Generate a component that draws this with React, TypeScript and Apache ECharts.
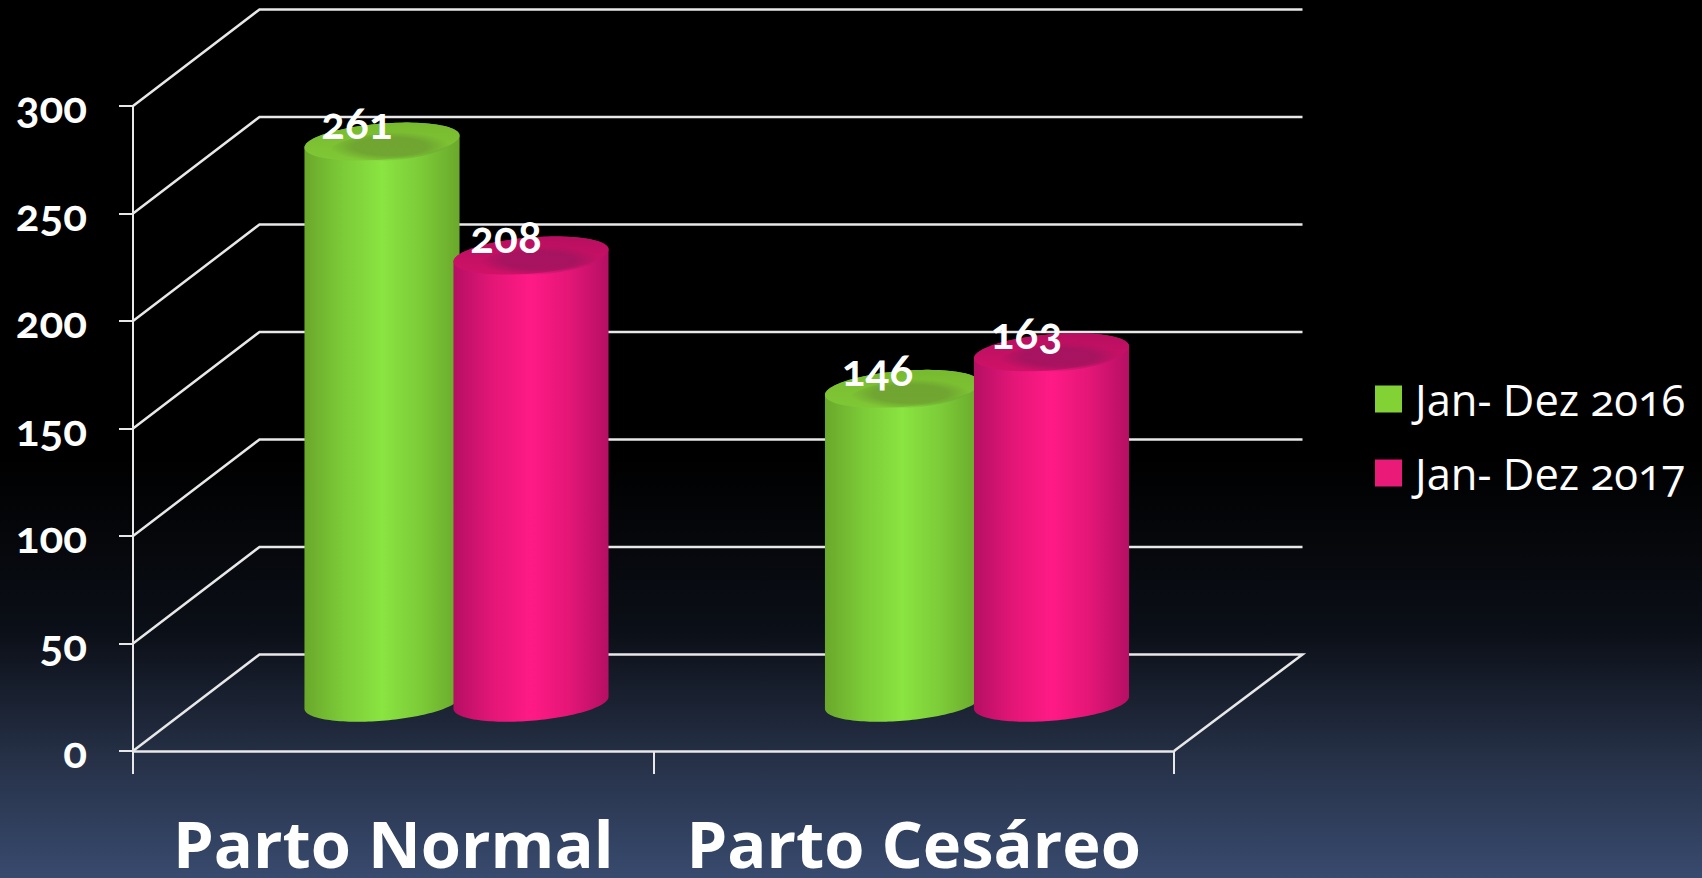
import React, { useEffect, useRef } from "react";
import * as echarts from "echarts";

const categories = ["Parto Normal", "Parto Cesáreo"];
const seriesNames = ["Jan- Dez 2016", "Jan- Dez 2017"];
const values2016 = [261, 146];
const values2017 = [208, 163];
const yTicks = [0, 50, 100, 150, 200, 250, 300];

const FONT = "'Open Sans', 'Noto Sans', sans-serif";
const DIGIT_FONT = "Lato, 'Noto Sans', sans-serif";
const DEPTH_X = 126.5;
const DEPTH_Y = 96.5;
const SHIFT = 74.5;

function ellipsePts(cx: number, cy: number, a: number, bx: number, by: number, from = 0, to = Math.PI * 2, n = 72) {
  const pts: number[][] = [];
  for (let i = 0; i <= n; i++) {
    const t = from + ((to - from) * i) / n;
    pts.push([cx + a * Math.cos(t) + bx * Math.sin(t), cy - by * Math.sin(t)]);
  }
  return pts;
}

const grad = (c: string[]) =>
  new echarts.graphic.LinearGradient(0, 0, 1, 0, [
    { offset: 0, color: c[0] },
    { offset: 0.25, color: c[1] },
    { offset: 0.5, color: c[2] },
    { offset: 0.75, color: c[1] },
    { offset: 1, color: c[0] },
  ]);

function cylinderSeries(name: string, values: number[], dir: number, body: string[], top: string[]) {
  return {
    name,
    type: "custom",
    coordinateSystem: "cartesian2d",
    itemStyle: { color: body[3] },
    data: values.map((v, i) => [i, v]),
    encode: { x: 0, y: 1 },
    z: 5,
    renderItem: (_p: any, api: any) => {
      const idx = api.value(0);
      const val = api.value(1);
      const [fx, fy] = api.coord([idx, val]);
      const [, f0] = api.coord([idx, 0]);
      const cx = fx + DEPTH_X / 2 + dir * SHIFT;
      const topY = fy - DEPTH_Y / 2;
      const baseY = f0 - DEPTH_Y / 2;
      const a = 73.5, bx = 24.7, by = 19;
      const t0 = Math.atan2(bx, a);
      const lower = ellipsePts(cx, baseY, a, bx, by, t0 + Math.PI, t0 + 2 * Math.PI);
      const upper = ellipsePts(cx, topY, a, bx, by, t0, t0 + Math.PI);
      return {
        type: "group",
        children: [
          {
            type: "polygon",
            shape: { points: [...lower, ...upper] },
            style: { fill: grad(body) },
          },
          {
            type: "polygon",
            shape: { points: ellipsePts(cx, topY, a, bx, by) },
            style: {
              fill: new echarts.graphic.LinearGradient(0, 0, 0, 1, [
                { offset: 0, color: top[0] },
                { offset: 1, color: top[1] },
              ]),
            },
          },
          {
            type: "polygon",
            shape: { points: ellipsePts(cx + 8, topY + 5, a * 0.78, bx * 0.78, by * 0.78) },
            style: {
              fill: new echarts.graphic.RadialGradient(0.5, 0.5, 0.5, [
                { offset: 0, color: top[2] },
                { offset: 0.6, color: top[2] },
                { offset: 1, color: top[3] },
              ]),
            },
          },
          {
            type: "text",
            z2: 10,
            style: {
              text: String(val),
              x: cx - 25,
              y: topY - 20,
              align: "center",
              verticalAlign: "middle",
              fill: "#ffffff",
              font: `700 44px ${DIGIT_FONT}`,
            },
          },
        ],
      };
    },
  };
}

export default function App() {
  const ref = useRef<HTMLDivElement>(null);
  useEffect(() => {
    document.body.style.margin = "0";
    const chart = echarts.init(ref.current!, null, { renderer: "svg" });
    chart.setOption({
      animation: false,
      backgroundColor: new echarts.graphic.LinearGradient(0, 0, 0, 1, [
        { offset: 0, color: "#000000" },
        { offset: 0.52, color: "#000000" },
        { offset: 0.72, color: "#0b0f17" },
        { offset: 0.87, color: "#273249" },
        { offset: 1, color: "#384a6e" },
      ]),
      grid: { left: 133, right: 528, top: 106, bottom: 127 },
      legend: {
        data: seriesNames,
        orient: "vertical",
        left: 1370,
        top: 372,
        icon: "rect",
        itemWidth: 27,
        itemHeight: 27,
        itemGap: 30,
        textStyle: {
          color: "#ffffff",
          fontFamily: FONT,
          fontSize: 43.5,
          fontWeight: 400,
          padding: [0, 0, 0, 8],
        },
      },
      xAxis: {
        type: "category",
        data: categories,
        axisLine: { lineStyle: { color: "#e8e8e8", width: 2.5 } },
        axisTick: { show: true, length: 23, alignWithLabel: false, lineStyle: { color: "#e8e8e8", width: 2 } },
        axisLabel: {
          color: "#ffffff",
          fontFamily: FONT,
          fontWeight: 700,
          fontSize: 65,
          lineHeight: 54,
          margin: 65,
          interval: 0,
        },
      },
      yAxis: {
        type: "value",
        min: 0,
        max: 300,
        interval: 50,
        splitLine: { show: false },
        axisLine: { show: true, lineStyle: { color: "#e8e8e8", width: 2 } },
        axisTick: { show: true, length: 14, lineStyle: { color: "#e8e8e8", width: 2 } },
        axisLabel: {
          color: "#ffffff",
          fontFamily: DIGIT_FONT,
          fontWeight: 700,
          fontSize: 44,
          margin: 46,
          padding: [6, 0, 0, 0],
        },
      },
      series: [
        {
          type: "custom",
          silent: true,
          data: yTicks.map((v) => [0, v]),
          encode: { x: 0, y: 1 },
          z: 1,
          renderItem: (p: any, api: any) => {
            const val = api.value(1);
            const sys = p.coordSys;
            const y = api.coord([0, val])[1];
            const left = sys.x;
            const right = sys.x + sys.width;
            const points = [
              [left, y],
              [left + DEPTH_X, y - DEPTH_Y],
              [right + DEPTH_X + 2, y - DEPTH_Y],
            ];
            if (val === 0) points.push([right, y]);
            return {
              type: "polyline",
              shape: { points },
              style: { fill: "none", stroke: "#e8e8e8", lineWidth: 2.5 },
            };
          },
        },
        cylinderSeries(seriesNames[0], values2016, -1,
          ["#6aa82b", "#7ccb38", "#8ae441", "#83d235"],
          ["#78ba2f", "#80c836", "rgba(108,158,48,0.8)", "rgba(108,158,48,0)"]),
        cylinderSeries(seriesNames[1], values2017, 1,
          ["#b50f64", "#e31676", "#ff1a85", "#e91a78"],
          ["#b80f60", "#cf1268", "rgba(160,20,95,0.8)", "rgba(160,20,95,0)"]),
      ],
    });
    return () => chart.dispose();
  }, []);
  return (
    <>
      <style>{`svg text { font-feature-settings: "onum" !important; font-variant-numeric: oldstyle-nums !important; }`}</style>
      <div ref={ref} style={{ position: "fixed", left: 0, top: 0, width: 1702, height: 878 }} />
    </>
  );
}
